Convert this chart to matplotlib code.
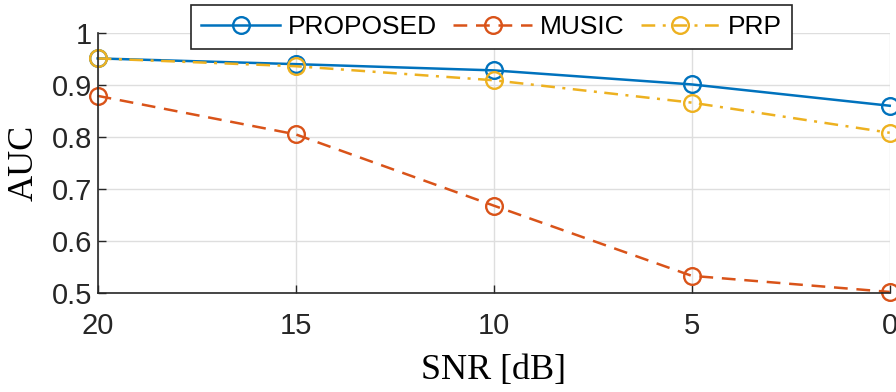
import matplotlib
matplotlib.use('Agg')
import matplotlib.pyplot as plt

snr = [20, 15, 10, 5, 0]
auc_proposed = [0.951, 0.940, 0.928, 0.901, 0.860]
auc_music = [0.879, 0.805, 0.668, 0.533, 0.502]
auc_prp = [0.951, 0.936, 0.909, 0.866, 0.808]

x_ticks = [20, 15, 10, 5, 0]
y_ticks = [0.5, 0.6, 0.7, 0.8, 0.9, 1]

fig = plt.figure(figsize=(8.96, 3.92), dpi=100)
ax = fig.add_axes([0.109, 0.2526, 0.884, 0.6634])

mk = dict(marker='o', markersize=12, markerfacecolor='none', markeredgewidth=1.7, linewidth=1.8, clip_on=False)
ax.plot(snr, auc_proposed, '-', color='#0072BD', label='PROPOSED', **mk)
ax.plot(snr, auc_music, '--', color='#D95319', label='MUSIC', dashes=(5.5, 3.5), **mk)
ax.plot(snr, auc_prp, '-.', color='#EDB120', label='PRP', dashes=(5.5, 3, 1.2, 3), **mk)

ax.set_xlim(20, 0)
ax.set_ylim(0.5, 1)
ax.set_xticks(x_ticks)
ax.set_yticks(y_ticks)
ax.set_xticklabels([str(v) for v in x_ticks])
ax.set_yticklabels(['0.5', '0.6', '0.7', '0.8', '0.9', '1'])
ax.tick_params(direction='in', length=6, width=1, labelsize=21, colors='#262626')
ax.tick_params(axis='x', pad=14)
ax.tick_params(axis='y', pad=4)
for lab in ax.get_xticklabels() + ax.get_yticklabels():
    lab.set_family('Liberation Sans')

ax.grid(True, color='#dedede', linewidth=1)
ax.set_axisbelow(True)
for s in ['top', 'right']:
    ax.spines[s].set_visible(False)
for s in ['left', 'bottom']:
    ax.spines[s].set_color('#262626')
    ax.spines[s].set_linewidth(1.2)

ax.set_xlabel('SNR [dB]', fontsize=26, family='Liberation Serif', labelpad=10)
ax.set_ylabel('AUC', fontsize=26, family='Liberation Serif', labelpad=8)

leg = ax.legend(loc='center', bbox_to_anchor=(0.497, 1.021), ncol=3, frameon=True, fancybox=False,
                edgecolor='#262626', framealpha=1, handlelength=3.0, columnspacing=0.6,
                handletextpad=0.3, borderpad=0.38, prop={'family': 'Liberation Sans', 'size': 19})
leg.get_frame().set_linewidth(1.2)

fig.savefig('out.png', dpi=100)
